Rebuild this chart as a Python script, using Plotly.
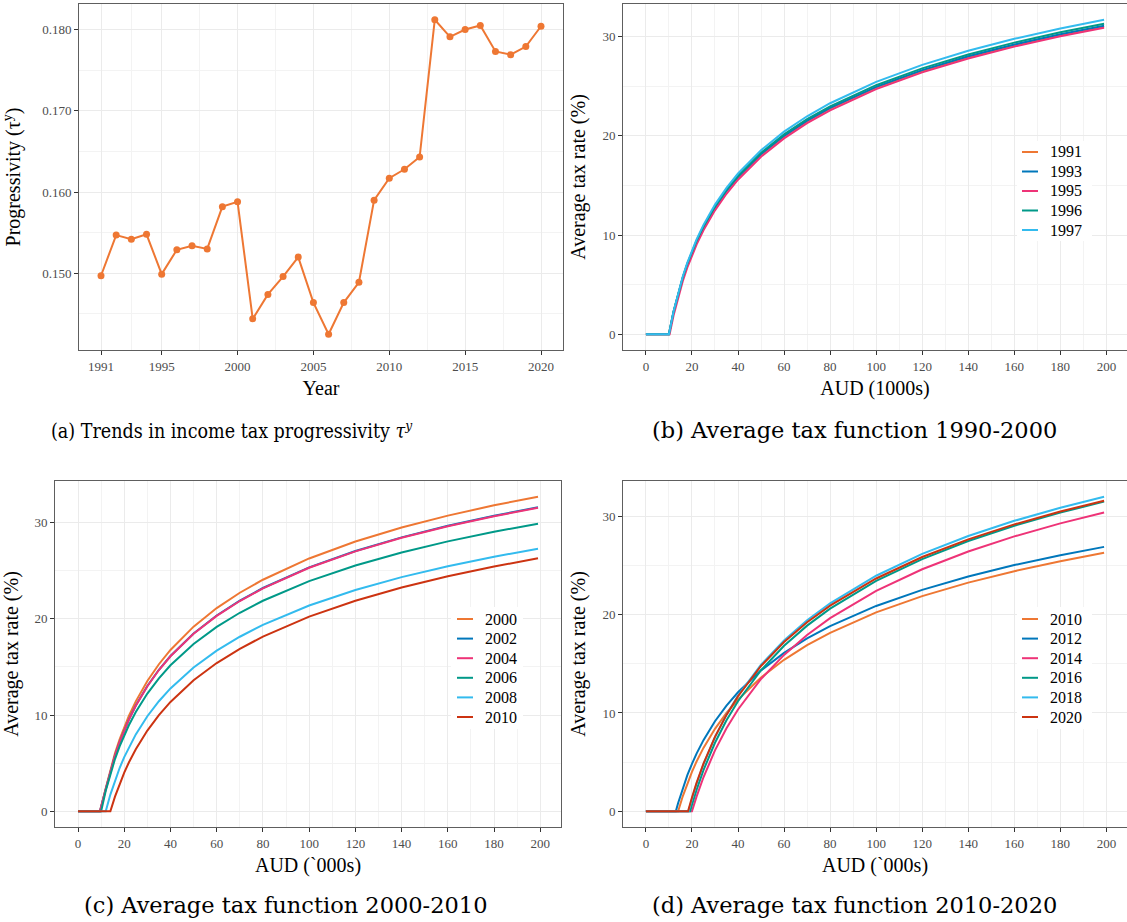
import plotly.graph_objects as go

W, H = 1127, 922


def px(x):
    return x / W


def py(y):
    return 1 - y / H


SERIF = "Liberation Serif"
CAPTION_FONT = "DejaVu Serif"

# ---------------- Panel (a) data ----------------
YEARS = list(range(1991, 2021))
PROGRESSIVITY = [0.1497, 0.1547, 0.1542, 0.1548, 0.1499, 0.1529, 0.1534, 0.1530, 0.1582, 0.1588,
                 0.1444, 0.1474, 0.1496, 0.1520, 0.1464, 0.1425, 0.1464, 0.1489, 0.1590, 0.1617,
                 0.1628, 0.1643, 0.1812, 0.1791, 0.1800, 0.1805, 0.1773, 0.1769, 0.1779, 0.1804]
YEAR_TICKS = [1991, 1995, 2000, 2005, 2010, 2015, 2020]
YEAR_MINOR = [1993, 1997.5, 2002.5, 2007.5, 2012.5, 2017.5]
PROG_TICKS = [0.150, 0.160, 0.170, 0.180]
PROG_MINOR = [0.145, 0.155, 0.165, 0.175]

# ---------------- Tax function data (AUD '000s -> average tax rate %) ----------------
AUD_GRID = [12, 14, 16, 18, 20, 22, 25, 30, 35, 40, 50, 60, 70, 80, 100, 120, 140, 160, 180, 199]

ATR_1991 = [2.236, 4.088, 5.665, 7.033, 8.241, 9.320, 10.747, 12.743, 14.396, 15.803, 18.102, 19.934,
            21.451, 22.742, 24.853, 26.534, 27.925, 29.110, 30.138, 31.003]
ATR_1993 = [2.245, 4.104, 5.687, 7.060, 8.272, 9.355, 10.787, 12.790, 14.448, 15.859, 18.166, 20.003,
            21.525, 22.820, 24.936, 26.622, 28.017, 29.205, 30.236, 31.103]
ATR_1995 = [1.889, 3.759, 5.349, 6.730, 7.949, 9.038, 10.478, 12.492, 14.160, 15.578, 17.897, 19.745,
            21.274, 22.575, 24.702, 26.396, 27.799, 28.992, 30.029, 30.900]
ATR_1996 = [2.262, 4.135, 5.730, 7.113, 8.333, 9.424, 10.866, 12.883, 14.552, 15.972, 18.293, 20.142,
            21.673, 22.975, 25.103, 26.798, 28.200, 29.394, 30.430, 31.302]
ATR_1997 = [2.297, 4.198, 5.816, 7.219, 8.457, 9.563, 11.025, 13.069, 14.760, 16.199, 18.549, 20.420,
            21.969, 23.286, 25.438, 27.151, 28.568, 29.774, 30.820, 31.700]

ATR_2000 = [2.385, 4.357, 6.034, 7.488, 8.770, 9.915, 11.427, 13.540, 15.286, 16.772, 19.195, 21.123,
            22.718, 24.072, 26.284, 28.043, 29.497, 30.734, 31.806, 32.700]
ATR_2002 = [2.288, 4.183, 5.795, 7.193, 8.427, 9.529, 10.986, 13.023, 14.709, 16.143, 18.486, 20.351,
            21.896, 23.209, 25.355, 27.064, 28.477, 29.680, 30.724, 31.602]
ATR_2004 = [2.284, 4.174, 5.784, 7.179, 8.411, 9.511, 10.965, 12.999, 14.682, 16.114, 18.453, 20.316,
            21.858, 23.169, 25.313, 27.019, 28.430, 29.632, 30.674, 31.551]
ATR_2006 = [2.142, 3.918, 5.430, 6.744, 7.903, 8.940, 10.312, 12.234, 13.826, 15.182, 17.400, 19.170,
            20.637, 21.886, 23.929, 25.558, 26.909, 28.059, 29.059, 29.900]
ATR_2008 = [1.735, 3.213, 4.499, 5.634, 6.649, 7.994, 9.879, 11.442, 12.775, 14.956, 16.699, 18.144,
            19.375, 21.392, 23.002, 24.339, 25.476, 26.466, 27.300]
ATR_2010 = [1.524, 2.848, 4.018, 5.064, 6.449, 8.389, 9.999, 11.370, 13.615, 15.407, 16.893, 18.159,
            20.232, 21.886, 23.259, 24.428, 25.444, 26.300]

ATR_2012 = [0.848, 2.357, 3.669, 4.827, 5.863, 7.235, 9.158, 10.752, 12.110, 14.334, 16.109, 17.581,
            18.836, 20.889, 22.528, 23.888, 25.046, 26.053, 26.900]
ATR_2014 = [1.492, 3.459, 6.195, 8.449, 10.357, 13.457, 15.910, 17.930, 19.641, 22.420, 24.619, 26.430,
            27.963, 29.289, 30.400]
ATR_2016 = [0.658, 2.179, 4.181, 6.967, 9.258, 11.198, 14.347, 16.836, 18.885, 20.619, 23.434, 25.659,
            27.491, 29.040, 30.380, 31.500]
ATR_2018 = [1.258, 2.774, 4.771, 7.548, 9.833, 11.767, 14.906, 17.388, 19.430, 21.158, 23.963, 26.181,
            28.005, 29.549, 30.883, 32.000]
ATR_2020 = [1.404, 2.888, 4.844, 7.565, 9.805, 11.702, 14.783, 17.220, 19.226, 20.925, 23.684, 25.866,
            27.663, 29.184, 30.499, 31.600]

# zero-tax thresholds (AUD '000s)
LABELS_B = ["1991", "1993", "1995", "1996", "1997"]
THRESH_B = [10, 10, 10.3, 10, 10]
LABELS_C = ["2000", "2002", "2004", "2006", "2008", "2010"]
THRESH_C = [9.5, 9.5, 9.5, 10, 12, 14]
LABELS_D = ["2010", "2012", "2014", "2016", "2018", "2020"]
THRESH_D = [14, 13, 20, 19.2, 18.5, 18.3]

SERIES_B = [ATR_1991, ATR_1993, ATR_1995, ATR_1996, ATR_1997]
SERIES_C = [ATR_2000, ATR_2002, ATR_2004, ATR_2006, ATR_2008, ATR_2010]
SERIES_D = [ATR_2010, ATR_2012, ATR_2014, ATR_2016, ATR_2018, ATR_2020]

AUD_TICKS = list(range(0, 201, 20))
AUD_MINOR = list(range(10, 200, 20))
ATR_TICKS = [0, 10, 20, 30]
ATR_MINOR = [5, 15, 25]

COLORS = ["#EE7733", "#0077BB", "#EE3377", "#009988", "#33BBEE", "#CC3311"]

fig = go.Figure()

# ---------------- Panel (a) ----------------
fig.add_trace(go.Scatter(
    x=YEARS, y=PROGRESSIVITY, mode="lines+markers",
    line=dict(color="#EE7733", width=2), marker=dict(size=7, color="#EE7733"),
    xaxis="x", yaxis="y", showlegend=False, hoverinfo="x+y"))


def curve_xy(thr, vals):
    xs = [0, thr] + [g for g in AUD_GRID if g > thr]
    ys = [0, 0] + list(vals)
    assert len(xs) == len(ys), (thr, len(xs), len(ys))
    return xs, ys


panels = [
    ("x2", "y2", LABELS_B, THRESH_B, SERIES_B),
    ("x3", "y3", LABELS_C, THRESH_C, SERIES_C),
    ("x4", "y4", LABELS_D, THRESH_D, SERIES_D),
]
ymax_by_axis = {}
for xa, ya, labels, threshs, series in panels:
    ymax = 0
    for i, (lab, thr, vals) in enumerate(zip(labels, threshs, series)):
        xs, ys = curve_xy(thr, vals)
        ymax = max(ymax, max(ys))
        fig.add_trace(go.Scatter(
            x=xs, y=ys, mode="lines", name=lab,
            line=dict(color=COLORS[i], width=2),
            xaxis=xa, yaxis=ya, showlegend=False))
    ymax_by_axis[ya] = ymax


def base_axis(**kw):
    d = dict(showline=True, linecolor="#5E5E5E", linewidth=1, mirror=True,
             ticks="outside", ticklen=4, tickcolor="#333333", tickwidth=1,
             tickfont=dict(family=SERIF, size=13, color="#4D4D4D"),
             showgrid=True, gridcolor="#EBEBEB", gridwidth=1,
             zeroline=False, automargin=False, fixedrange=True)
    d.update(kw)
    return d


def title(text, standoff):
    return dict(text=text, font=dict(family=SERIF, size=20, color="black"), standoff=standoff)


def minor(vals):
    return dict(tickmode="array", tickvals=vals, showgrid=True, gridcolor="#F3F3F3",
                gridwidth=1, ticks="")


# ranges with 5% expansion
yr_span = max(YEARS) - min(YEARS)
p_lo, p_hi = min(PROGRESSIVITY), max(PROGRESSIVITY)
p_span = p_hi - p_lo
aud_max = max(AUD_GRID)

row_top = [py(350), py(4)]
row_bot = [py(827), py(481)]

layout = dict(
    width=W, height=H, margin=dict(l=0, r=0, t=0, b=0),
    paper_bgcolor="white", plot_bgcolor="white", showlegend=False,
    xaxis=base_axis(domain=[px(79), px(563)], anchor="y",
                    range=[min(YEARS) - 0.05 * yr_span, max(YEARS) + 0.05 * yr_span],
                    tickmode="array", tickvals=YEAR_TICKS, minor=minor(YEAR_MINOR),
                    title=title("Year", 8)),
    yaxis=base_axis(domain=row_top, anchor="x",
                    range=[p_lo - 0.05 * p_span, p_hi + 0.05 * p_span],
                    tickmode="array", tickvals=PROG_TICKS, tickformat=".3f",
                    minor=minor(PROG_MINOR),
                    title=title("Progressivity (τ<sup>y</sup>)", 16)),
)

axis_specs = [
    ("xaxis2", "yaxis2", "x2", "y2", [px(623), 1.0], row_top, "AUD (1000s)"),
    ("xaxis3", "yaxis3", "x3", "y3", [px(55), px(561)], row_bot, "AUD (`000s)"),
    ("xaxis4", "yaxis4", "x4", "y4", [px(623), 1.0], row_bot, "AUD (`000s)"),
]
for xk, yk, xa, ya, xdom, ydom, xt in axis_specs:
    ym = ymax_by_axis[ya]
    layout[xk] = base_axis(domain=xdom, anchor=ya,
                           range=[-0.05 * aud_max, aud_max * 1.05],
                           tickmode="array", tickvals=AUD_TICKS, minor=minor(AUD_MINOR),
                           title=title(xt, 8))
    layout[yk] = base_axis(domain=ydom, anchor=xa,
                           range=[-0.05 * ym, ym * 1.05],
                           tickmode="array", tickvals=ATR_TICKS, minor=minor(ATR_MINOR),
                           title=title("Average tax rate (%)", 11))

fig.update_layout(**layout)

# ---------------- Manual legends (inside panels) ----------------
shapes = []
annotations = []
legend_specs = [
    (LABELS_B, 1017, 1092, 141, 241, 152, 19.5, 1022),
    (LABELS_C, 451, 523, 607, 729, 619, 19.6, 457),
    (LABELS_D, 1017, 1092, 607, 729, 619, 19.6, 1022),
]
for labels, bx0, bx1, by0, by1, y0, step, lx in legend_specs:
    shapes.append(dict(type="rect", xref="paper", yref="paper",
                       x0=px(bx0), x1=px(bx1), y0=py(by1), y1=py(by0),
                       fillcolor="white", line=dict(width=0), layer="above"))
    for i, lab in enumerate(labels):
        yy = y0 + step * i
        shapes.append(dict(type="line", xref="paper", yref="paper",
                           x0=px(lx), x1=px(lx + 16), y0=py(yy), y1=py(yy),
                           line=dict(color=COLORS[i], width=2), layer="above"))
        annotations.append(dict(text=lab, xref="paper", yref="paper",
                                x=px(lx + 26), y=py(yy), xanchor="left", yanchor="middle",
                                showarrow=False, font=dict(family=SERIF, size=16, color="black")))

# ---------------- Captions ----------------
captions = [
    ("(a) Trends in income tax progressivity <i>τ</i><sup><i>y</i></sup>", 232, 430,
     "DejaVu Serif Condensed, DejaVu Serif", 19.5),
    ("(b) Average tax function 1990-2000", 854, 430, CAPTION_FONT, 22.5),
    ("(c) Average tax function 2000-2010", 285, 905, CAPTION_FONT, 22.5),
    ("(d) Average tax function 2010-2020", 854, 905, CAPTION_FONT, 22.5),
]
for text, cx, cy, fam, size in captions:
    annotations.append(dict(text=text, xref="paper", yref="paper", x=px(cx), y=py(cy),
                            xanchor="center", yanchor="middle", showarrow=False,
                            font=dict(family=fam, size=size, color="black")))

fig.update_layout(shapes=shapes, annotations=annotations)

fig.write_html("out.html")
